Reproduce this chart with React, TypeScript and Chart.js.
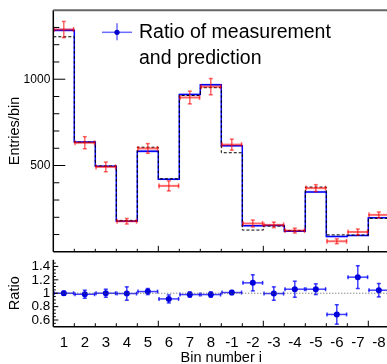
import React, { useEffect, useRef } from 'react';
import { Chart, registerables } from 'chart.js';

Chart.register(...registerables);

// ---- data ----
const binLabels = ['1', '2', '3', '4', '5', '6', '7', '8', '-1', '-2', '-3', '-4', '-5', '-6', '-7', '-8'];
const prediction = [1246, 635, 497, 182, 606, 423, 906, 951, 574, 126, 149, 123, 375, 98, 97, 194];
const model = [1284, 636, 496, 177, 582, 420, 912, 968, 614, 151, 153, 119, 347, 89, 95, 198];
const modelErr = [10, 6, 5, 4, 8, 5, 7, 7, 6, 4, 4, 4, 7, 5, 4, 5];
const measured = [1288, 632, 492, 177, 599, 382, 894, 957, 621, 164, 156, 123, 369, 61, 115, 214];
const measuredErr = [47, 35, 28, 16, 28, 29, 37, 47, 32, 20, 16, 14, 20, 14, 17, 17];
const ratio = [1.0, 0.985, 1.0, 0.995, 1.025, 0.915, 0.98, 0.98, 1.01, 1.155, 0.995, 1.06, 1.06, 0.683, 1.24, 1.045];
const ratioErr = [0.03, 0.06, 0.06, 0.1, 0.045, 0.06, 0.04, 0.04, 0.03, 0.12, 0.1, 0.12, 0.08, 0.145, 0.17, 0.1];
const topTickLabels = [500, 1000];
const ratioTickLabels = [0.6, 0.8, 1, 1.2, 1.4];
const legendLines = ['Ratio of measurement', 'and prediction'];

const FONT = '"Liberation Sans", Arial, Helvetica, sans-serif';
const AXIS_W = 53.3;

const stepPoints = (vals: number[]) =>
  vals.flatMap((v, i) => [{ x: i, y: v }, { x: i + 1, y: v }]);

function seg(ctx: CanvasRenderingContext2D, x1: number, y1: number, x2: number, y2: number) {
  ctx.beginPath();
  ctx.moveTo(x1, y1);
  ctx.lineTo(x2, y2);
  ctx.stroke();
}

const topPlugin = {
  id: 'topDeco',
  beforeDatasetsDraw(chart: any) {
    const { ctx, scales: { x, y } } = chart;
    ctx.save();
    ctx.fillStyle = 'rgba(90,90,255,0.35)';
    model.forEach((v, i) => {
      const x1 = x.getPixelForValue(i);
      const x2 = x.getPixelForValue(i + 1);
      const y1 = y.getPixelForValue(v + modelErr[i]);
      const y2 = y.getPixelForValue(v - modelErr[i]);
      ctx.fillRect(x1, y1, x2 - x1, y2 - y1);
    });
    ctx.restore();
  },
  afterDatasetsDraw(chart: any) {
    const { ctx, scales: { x, y } } = chart;
    ctx.save();
    ctx.strokeStyle = 'rgba(255,0,0,0.6)';
    ctx.lineWidth = 2;
    measured.forEach((v, i) => {
      const x1 = x.getPixelForValue(i);
      const x2 = x.getPixelForValue(i + 1);
      const cx = x.getPixelForValue(i + 0.5);
      const py = y.getPixelForValue(v);
      const yt = y.getPixelForValue(v + measuredErr[i]);
      const yb = y.getPixelForValue(v - measuredErr[i]);
      seg(ctx, x1, py, x2, py);
      ctx.lineWidth = 1.5;
      seg(ctx, x1 + 0.75, py - 2.5, x1 + 0.75, py + 2.5);
      seg(ctx, x2 - 0.75, py - 2.5, x2 - 0.75, py + 2.5);
      seg(ctx, cx, yt, cx, yb);
      seg(ctx, cx - 2, yt, cx + 2, yt);
      seg(ctx, cx - 2, yb, cx + 2, yb);
      ctx.lineWidth = 2;
    });
    ctx.restore();
  },
  afterDraw(chart: any) {
    const { ctx, chartArea: { left, right, top, bottom }, scales: { x, y } } = chart;
    ctx.save();
    ctx.strokeStyle = '#000';
    ctx.lineWidth = 1;
    for (let k = 1; k < 14; k++) {
      const v = k * 100;
      const py = y.getPixelForValue(v);
      const len = v % 500 === 0 ? 12 : 6;
      seg(ctx, left, py, left + len, py);
    }
    for (let i = 1; i < binLabels.length; i++) {
      const px = x.getPixelForValue(i);
      const len = i % 5 === 0 ? 6 : 3;
      seg(ctx, px, bottom, px, bottom - len);
    }
    ctx.lineWidth = 1.5;
    seg(ctx, left, top, left, bottom);
    seg(ctx, left, bottom, right + 5, bottom);
    ctx.strokeStyle = '#666';
    ctx.lineWidth = 2;
    seg(ctx, left, top, right + 5, top);

    // legend
    const lx = 117, ly = 32.3;
    ctx.strokeStyle = 'rgba(70,70,255,0.8)';
    ctx.lineWidth = 1.5;
    seg(ctx, lx - 15, ly, lx + 15, ly);
    seg(ctx, lx, ly - 9, lx, ly + 8);
    ctx.fillStyle = '#0000cc';
    ctx.beginPath();
    ctx.arc(lx, ly, 2.6, 0, Math.PI * 2);
    ctx.fill();
    ctx.fillStyle = '#000';
    ctx.font = `19.5px ${FONT}`;
    ctx.textBaseline = 'alphabetic';
    ctx.textAlign = 'left';
    ctx.fillText(legendLines[0], 139, 38.3);
    ctx.fillText(legendLines[1], 139, 64.3);
    ctx.restore();
  },
};

const ratioPlugin = {
  id: 'ratioDeco',
  beforeDatasetsDraw(chart: any) {
    const { ctx, scales: { x, y } } = chart;
    ctx.save();
    ctx.strokeStyle = 'rgba(0,0,255,0.75)';
    ctx.lineWidth = 1.5;
    ratio.forEach((v, i) => {
      const x1 = x.getPixelForValue(i);
      const x2 = x.getPixelForValue(i + 1);
      const cx = x.getPixelForValue(i + 0.5);
      const py = y.getPixelForValue(v);
      const yt = y.getPixelForValue(v + ratioErr[i]);
      const yb = y.getPixelForValue(v - ratioErr[i]);
      seg(ctx, x1, py, x2, py);
      seg(ctx, x1 + 0.75, py - 2, x1 + 0.75, py + 2);
      seg(ctx, x2 - 0.75, py - 2, x2 - 0.75, py + 2);
      seg(ctx, cx, yt, cx, yb);
      seg(ctx, cx - 2, yt, cx + 2, yt);
      seg(ctx, cx - 2, yb, cx + 2, yb);
    });
    ctx.restore();
  },
  afterDraw(chart: any) {
    const { ctx, chartArea: { left, right, top, bottom }, scales: { x, y } } = chart;
    ctx.save();
    ctx.strokeStyle = '#000';
    ctx.lineWidth = 1;
    for (let k = 11; k <= 29; k++) {
      const v = k * 0.05;
      const py = y.getPixelForValue(v);
      const len = k % 4 === 0 ? 5 : 2.5;
      seg(ctx, left, py, left + len, py);
    }
    for (let i = 1; i < binLabels.length; i++) {
      const px = x.getPixelForValue(i);
      const len = i % 5 === 0 ? 6 : 3.5;
      seg(ctx, px, bottom, px, bottom - len);
    }
    ctx.lineWidth = 1.5;
    seg(ctx, left, top, left, bottom);
    seg(ctx, left, bottom, right + 5, bottom);
    ctx.restore();
  },
};

export default function App() {
  const topRef = useRef<HTMLCanvasElement>(null);
  const botRef = useRef<HTMLCanvasElement>(null);

  useEffect(() => {
    const top = new Chart(topRef.current!, {
      type: 'line',
      data: {
        datasets: [
          {
            label: 'prediction',
            data: stepPoints(prediction),
            borderColor: '#000',
            borderWidth: 1,
            borderDash: [3, 2],
            pointRadius: 0,
            fill: false,
          },
          {
            label: 'model',
            data: stepPoints(model),
            borderColor: '#0000ff',
            borderWidth: 1.5,
            pointRadius: 0,
            fill: false,
          },
        ],
      },
      options: {
        animation: false,
        responsive: false,
        maintainAspectRatio: false,
        layout: { padding: { left: 0, right: 10.7, top: 8, bottom: 3.7 } },
        plugins: { legend: { display: false }, tooltip: { enabled: false } },
        scales: {
          x: { type: 'linear', display: false, min: 0, max: binLabels.length },
          y: {
            type: 'linear',
            min: 0,
            max: 1400,
            afterBuildTicks: (s: any) => {
              s.ticks = topTickLabels.map((v) => ({ value: v }));
            },
            afterFit: (s: any) => {
              s.width = AXIS_W;
            },
            grid: { display: false, drawTicks: false, tickLength: 0 },
            border: { display: false },
            ticks: {
              autoSkip: false,
              font: { family: FONT, size: 12 },
              color: '#000',
              padding: 3,
              callback: (v: any) => String(v),
            },
            title: {
              display: true,
              text: 'Entries/bin',
              color: '#000',
              font: { family: FONT, size: 14.5 },
              padding: { top: 6, bottom: 0 },
            },
          },
        },
      } as any,
      plugins: [topPlugin],
    });

    const bot = new Chart(botRef.current!, {
      type: 'line',
      data: {
        datasets: [
          {
            label: 'one',
            data: [
              { x: 0, y: 1 },
              { x: binLabels.length, y: 1 },
            ],
            borderColor: '#555',
            borderWidth: 1,
            borderDash: [1, 2],
            pointRadius: 0,
            fill: false,
          },
          {
            label: 'ratio',
            data: ratio.map((v, i) => ({ x: i + 0.5, y: v })),
            showLine: false,
            pointRadius: 3,
            pointBackgroundColor: '#0000dd',
            pointBorderColor: '#0000dd',
            pointBorderWidth: 0,
          },
        ],
      },
      options: {
        animation: false,
        responsive: false,
        maintainAspectRatio: false,
        layout: { padding: { left: 0, right: 10.7, top: 8.3, bottom: 0 } },
        plugins: { legend: { display: false }, tooltip: { enabled: false } },
        scales: {
          x: {
            type: 'linear',
            min: 0,
            max: binLabels.length,
            afterBuildTicks: (s: any) => {
              s.ticks = binLabels.map((_, i) => ({ value: i + 0.5 }));
            },
            afterFit: (s: any) => {
              s.height = 39.3;
            },
            grid: { display: false, drawTicks: false, tickLength: 0 },
            border: { display: false },
            ticks: {
              autoSkip: false,
              maxRotation: 0,
              minRotation: 0,
              font: { family: FONT, size: 15 },
              color: '#000',
              padding: 7,
              callback: (v: any) => binLabels[Math.floor(Number(v))],
            },
            title: {
              display: true,
              text: 'Bin number i',
              color: '#000',
              font: { family: FONT, size: 14.5, lineHeight: 1 },
              padding: { top: 0, bottom: 1 },
            },
          },
          y: {
            type: 'linear',
            min: 0.5,
            max: 1.5,
            afterBuildTicks: (s: any) => {
              s.ticks = ratioTickLabels.map((v) => ({ value: v }));
            },
            afterFit: (s: any) => {
              s.width = AXIS_W;
            },
            grid: { display: false, drawTicks: false, tickLength: 0 },
            border: { display: false },
            ticks: {
              autoSkip: false,
              font: { family: FONT, size: 13.5, lineHeight: 1 },
              color: '#000',
              padding: 3,
              callback: (v: any) => String(v),
            },
            title: {
              display: true,
              text: 'Ratio',
              color: '#000',
              font: { family: FONT, size: 14.5 },
              padding: { top: 6, bottom: 0 },
            },
          },
        },
      } as any,
      plugins: [ratioPlugin],
    });

    return () => {
      top.destroy();
      bot.destroy();
    };
  }, []);

  return (
    <div
      style={{
        position: 'absolute',
        left: 0,
        top: 0,
        width: 387,
        height: 364,
        overflow: 'hidden',
        background: '#fff',
      }}
    >
      <canvas
        ref={topRef}
        width={400}
        height={262}
        style={{ position: 'absolute', left: 0, top: 0, width: 400, height: 262 }}
      />
      <canvas
        ref={botRef}
        width={400}
        height={116}
        style={{ position: 'absolute', left: 0, top: 250, width: 400, height: 116 }}
      />
    </div>
  );
}
